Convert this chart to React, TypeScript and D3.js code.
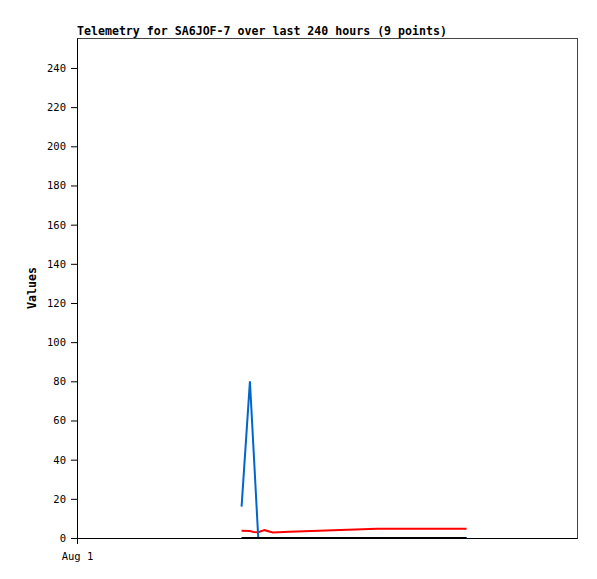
import React, { useEffect, useRef } from "react";
import * as d3 from "d3";

const title = "Telemetry for SA6JOF-7 over last 240 hours (9 points)";
const yLabel = "Values";
const startTime = new Date(2024, 7, 1, 0, 0, 0);
const hoursOffset = [79, 83, 85, 87, 90, 94, 102, 116, 130, 144, 187];
const blueValues = [16, 80, 40, 0, 0, 0, 0, 0, 0, 0, 0];
const redValues = [3.7, 3.6, 3.0, 2.9, 4.0, 2.8, 3.2, 3.7, 4.2, 4.7, 4.7];
const blackValues = [0, 0, 0, 0, 0, 0, 0, 0, 0, 0, 0];
const yTicks = [0, 20, 40, 60, 80, 100, 120, 140, 160, 180, 200, 220, 240];
const xTicks = [startTime];

const App: React.FC = () => {
  const svgRef = useRef<SVGSVGElement | null>(null);

  useEffect(() => {
    const width = 597;
    const height = 579;
    const margin = { top: 38, right: 20, bottom: 41, left: 77 };

    d3.select(svgRef.current).selectAll("*").remove();
    const svg = d3
      .select(svgRef.current)
      .attr("width", width)
      .attr("height", height)
      .style("font-family", "'DejaVu Sans Mono', monospace");

    const endTime = new Date(startTime.getTime() + 240 * 3600 * 1000);
    const xScale = d3
      .scaleTime()
      .domain([startTime, endTime])
      .range([margin.left, width - margin.right]);

    const yScale = d3
      .scaleLinear()
      .domain([0, 255.3])
      .range([height - margin.bottom, margin.top]);

    const times = hoursOffset.map(
      (h) => new Date(startTime.getTime() + h * 3600 * 1000)
    );

    // frame
    svg
      .append("rect")
      .attr("x", margin.left)
      .attr("y", margin.top)
      .attr("width", width - margin.left - margin.right)
      .attr("height", height - margin.top - margin.bottom)
      .attr("fill", "none")
      .attr("stroke", "#444")
      .attr("stroke-width", 1)
      .attr("shape-rendering", "crispEdges");

    const yAxis = svg
      .append("g")
      .attr("transform", `translate(${margin.left},0)`)
      .call(
        d3
          .axisLeft(yScale)
          .tickValues(yTicks)
          .tickSize(6)
          .tickPadding(5)
          .tickSizeOuter(0)
      );
    yAxis.select(".domain").attr("stroke", "#000");
    yAxis
      .selectAll("text")
      .style("font-family", "'DejaVu Sans Mono', monospace")
      .style("font-size", "10.5px");

    const xAxis = svg
      .append("g")
      .attr("transform", `translate(0,${height - margin.bottom})`)
      .call(
        d3
          .axisBottom(xScale)
          .tickValues(xTicks)
          .tickFormat(() => "Aug 1")
          .tickSize(6)
          .tickPadding(9)
          .tickSizeOuter(0)
      );
    xAxis.select(".domain").attr("stroke", "#000");
    xAxis
      .selectAll("text")
      .style("font-family", "'DejaVu Sans Mono', monospace")
      .style("font-size", "10.5px");

    const line = (vals: number[]) =>
      d3
        .line<number>()
        .x((_, i) => xScale(times[i]))
        .y((d) => yScale(d))(vals);

    const series = [
      { vals: redValues, color: "#ff0000" },
      { vals: blueValues, color: "#0066cc" },
      { vals: blackValues, color: "#000000" },
    ];
    series.forEach((s) => {
      svg
        .append("path")
        .attr("d", line(s.vals))
        .attr("fill", "none")
        .attr("stroke", s.color)
        .attr("stroke-width", 2);
    });

    svg
      .append("text")
      .attr("x", margin.left)
      .attr("y", 35)
      .attr("font-size", "11.6px")
      .attr("font-weight", "bold")
      .text(title);

    svg
      .append("text")
      .attr("transform", `translate(36,${(margin.top + height - margin.bottom) / 2}) rotate(-90)`)
      .attr("text-anchor", "middle")
      .attr("font-size", "11.6px")
      .attr("font-weight", "bold")
      .text(yLabel);
  }, []);

  return <svg ref={svgRef} style={{ position: "absolute", left: 0, top: 0 }}></svg>;
};

export default App;
